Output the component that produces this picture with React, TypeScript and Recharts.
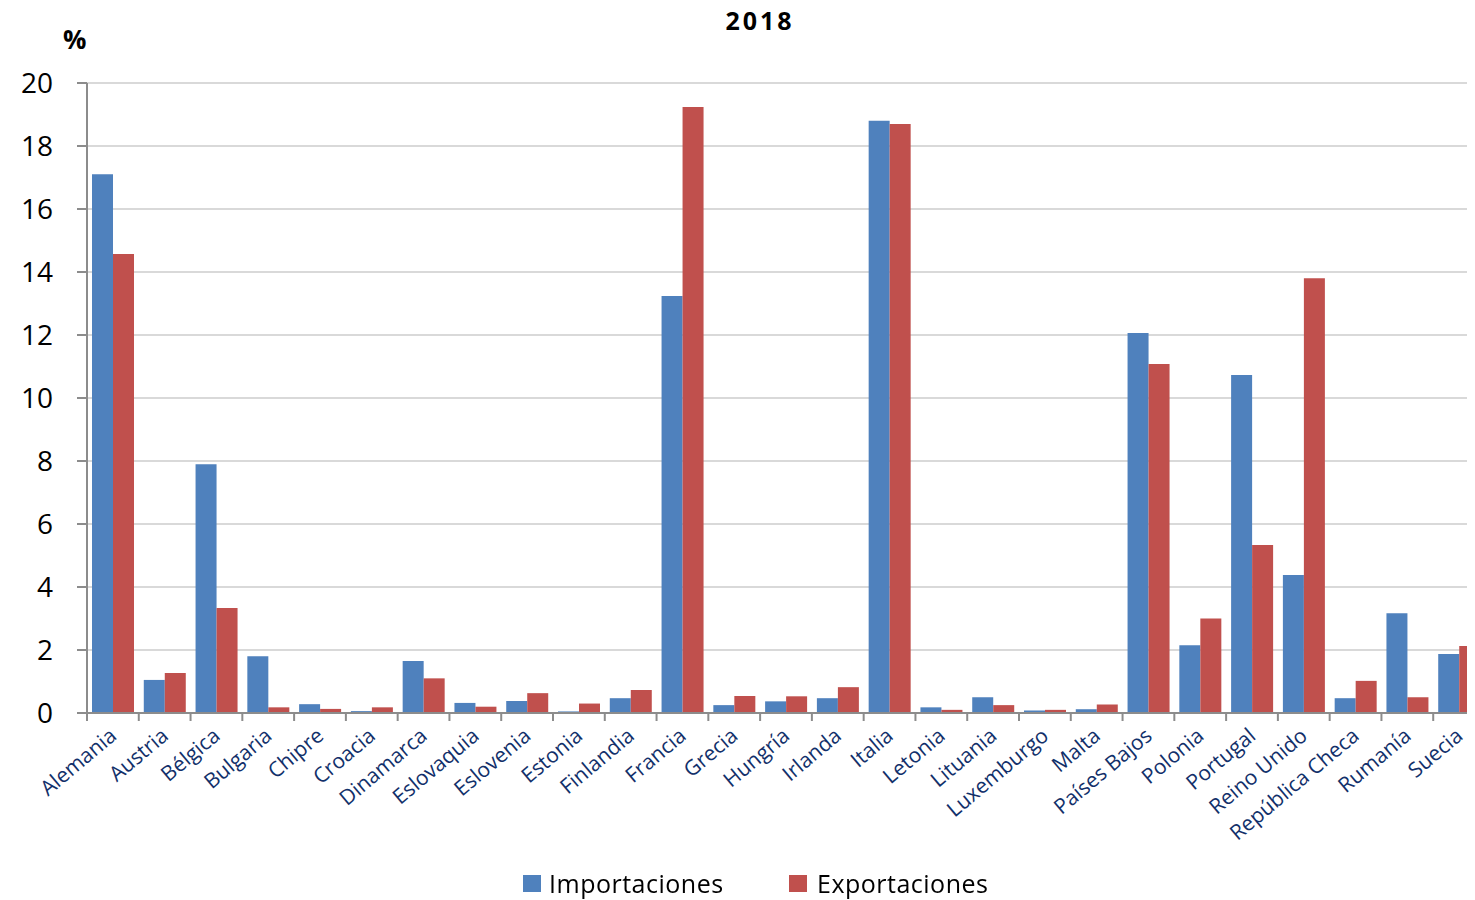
import { BarChart, Bar, XAxis, YAxis, CartesianGrid, Legend } from "recharts";

const countries = [
    "Alemania", "Austria", "Bélgica", "Bulgaria", "Chipre", "Croacia", "Dinamarca",
    "Eslovaquia", "Eslovenia", "Estonia", "Finlandia", "Francia", "Grecia", "Hungría",
    "Irlanda", "Italia", "Letonia", "Lituania", "Luxemburgo", "Malta", "Países Bajos",
    "Polonia", "Portugal", "Reino Unido", "República Checa", "Rumanía", "Suecia",
];

const importaciones = [
    17.1, 1.05, 7.9, 1.8, 0.28, 0.06, 1.65,
    0.32, 0.38, 0.05, 0.47, 13.24, 0.25, 0.37,
    0.47, 18.8, 0.18, 0.5, 0.08, 0.12, 12.06,
    2.15, 10.73, 4.38, 0.47, 3.17, 1.87,
];

const exportaciones = [
    14.57, 1.27, 3.33, 0.18, 0.13, 0.18, 1.1,
    0.2, 0.63, 0.3, 0.73, 19.24, 0.54, 0.53,
    0.82, 18.7, 0.1, 0.25, 0.1, 0.27, 11.08,
    3.0, 5.33, 13.8, 1.02, 0.5, 2.13,
];

const yTicks = [0, 2, 4, 6, 8, 10, 12, 14, 16, 18, 20];

const seriesNames = ["Importaciones", "Exportaciones"];
const BLUE = "#4F81BD";
const RED = "#C0504D";
const AXIS = "#8c8c8c";

const CHART_W = 1490;
const PLOT_LEFT = 87;
const PLOT_RIGHT = 1485;
const BAND = (PLOT_RIGHT - PLOT_LEFT) / countries.length;

const data = countries.map((name, i) => ({
    name,
    imp: importaciones[i],
    exp: exportaciones[i],
}));

function CountryTick({ x, y, payload }: any) {
    const left = x - BAND / 2;
    return (
        <g>
            <line x1={left} x2={left} y1={y} y2={y + 8} stroke={AXIS} strokeWidth={2} />
            <text
                transform={`translate(${x + 5},${y + 25}) rotate(-40)`}
                textAnchor="end"
                fill="#12306a"
                fontSize={21}
                fontFamily="'Open Sans'"
            >
                {payload.value}
            </text>
        </g>
    );
}

// legend sits in its own absolutely placed box so nothing clips it
function LegendBox() {
    const colors = [BLUE, RED];
    return (
        <div
            style={{
                position: "fixed",
                left: 0,
                top: 866,
                width: 1475,
                height: 34,
                display: "flex",
                fontFamily: "'Open Sans'",
                zIndex: 5,
            }}
        >
            {seriesNames.map((s, i) => (
                <div
                    key={s}
                    style={{
                        marginLeft: i === 0 ? 523 : 0,
                        width: i === 0 ? 266 : 260,
                        display: "flex",
                        alignItems: "flex-start",
                        height: 34,
                    }}
                >
                    <span style={{ width: 18, height: 17, background: colors[i], marginRight: i === 0 ? 8 : 10, marginTop: 9, display: "inline-block" }} />
                    <span style={{ fontSize: 25, color: "#000", lineHeight: "34px", letterSpacing: 0.5 }}>{s}</span>
                </div>
            ))}
        </div>
    );
}

export default function App() {
    return (
        <div
            style={{
                position: "relative",
                width: 1475,
                height: 900,
                margin: -8,
                overflow: "hidden",
                background: "#fff",
                fontFamily: "'Open Sans'",
            }}
        >
            <div style={{ position: "absolute", left: 0, width: 1520, top: 3, textAlign: "center", fontWeight: 700, fontSize: 25, letterSpacing: 3 }}>
                2018
            </div>
            <div style={{ position: "absolute", left: 63, top: 21, fontWeight: 700, fontSize: 26 }}>%</div>
            <BarChart
                width={CHART_W}
                height={900}
                data={data}
                margin={{ top: 83, right: CHART_W - PLOT_RIGHT, left: 0, bottom: 47 }}
                barCategoryGap={5}
                barGap={0}
            >
                <CartesianGrid vertical={false} stroke="#d9d9d9" strokeWidth={2} />
                <XAxis
                    dataKey="name"
                    type="category"
                    interval={0}
                    height={140}
                    tickSize={0}
                    tickMargin={0}
                    tickLine={false}
                    axisLine={{ stroke: AXIS, strokeWidth: 2 }}
                    tick={<CountryTick />}
                />
                <YAxis
                    width={PLOT_LEFT}
                    domain={[0, 20]}
                    ticks={yTicks}
                    interval={0}
                    tickSize={10}
                    tickMargin={24}
                    axisLine={{ stroke: AXIS, strokeWidth: 2 }}
                    tickLine={{ stroke: AXIS, strokeWidth: 2 }}
                    tick={{ fontSize: 28, fill: "#000", fontFamily: "'Open Sans'" }}
                />
                <Legend content={<LegendBox />} wrapperStyle={{ height: 0, width: 0 }} />
                <Bar dataKey="imp" name={seriesNames[0]} fill={BLUE} isAnimationActive={false} />
                <Bar dataKey="exp" name={seriesNames[1]} fill={RED} isAnimationActive={false} />
            </BarChart>
        </div>
    );
}
